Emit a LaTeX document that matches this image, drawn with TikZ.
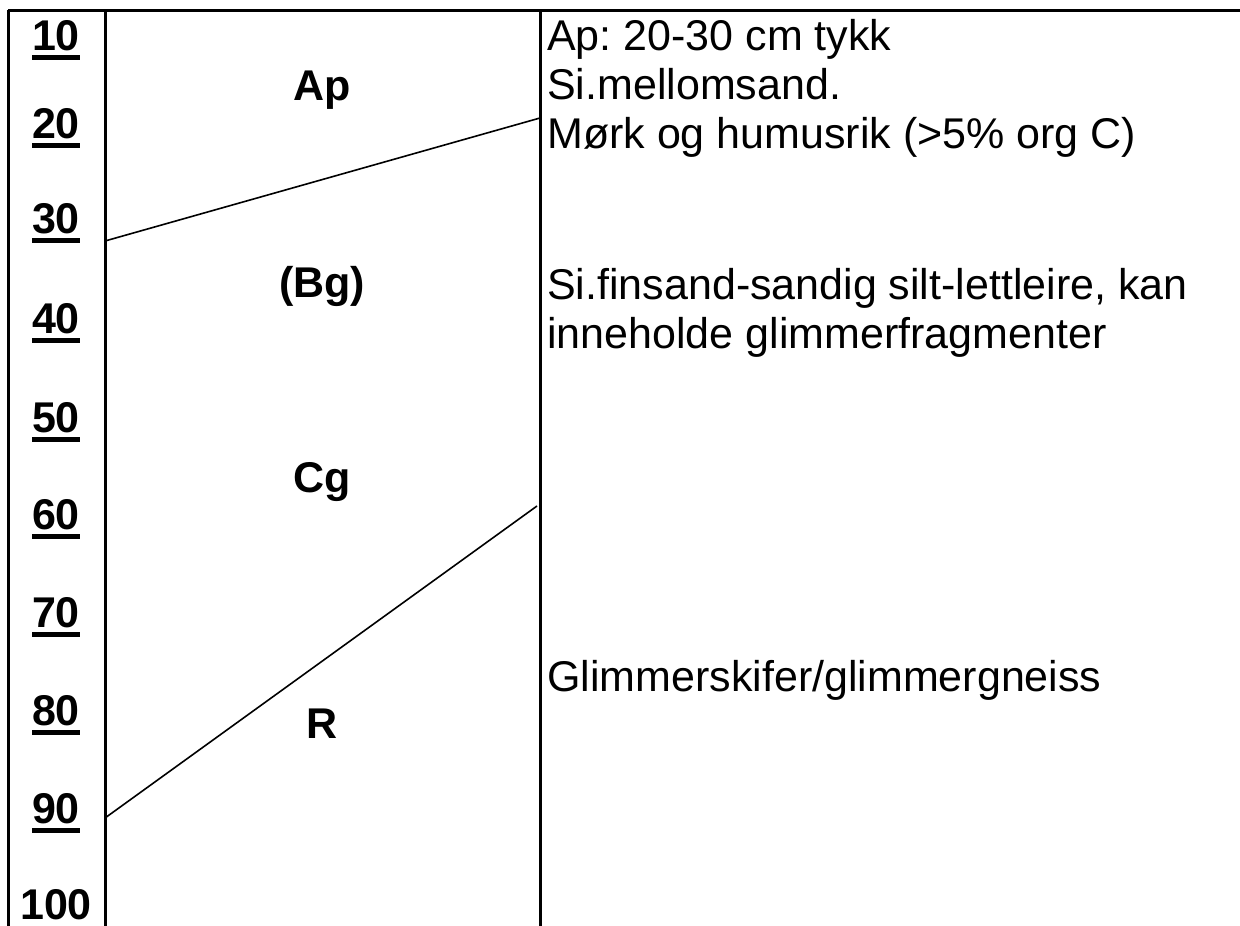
\documentclass[tikz,border=0pt]{standalone}
\usepackage{fontspec}
\setmainfont{Liberation Sans}
\usepackage{tikz}
\usetikzlibrary{positioning,calc}
\frenchspacing
\newcommand{\ulnum}[1]{\setbox0\hbox{#1}\leavevmode\rlap{\rule[-10pt]{\wd0}{5pt}}\box0}
\begin{document}
\begin{tikzpicture}[
        x=1pt, y=-1pt,
        font=\fontsize{43pt}{49pt}\selectfont,
        frame/.style={line width=3pt, draw=black},
        horizon/.style={line width=1.6pt, draw=black},
        depthlabel/.style={anchor=base, inner sep=0pt, font=\fontsize{43pt}{49pt}\selectfont\bfseries},
        layerlabel/.style={anchor=base, inner sep=0pt, font=\fontsize{43pt}{49pt}\selectfont\bfseries},
        desc/.style={anchor=base west, inner sep=0pt, align=left}
    ]
        \useasboundingbox (0,0) rectangle (1240,926);

        % frame
        \coordinate (tl) at (8,10);
        \coordinate (tr) at (1240,10);
        \coordinate (bl) at (8,926);
        \coordinate (sc) at (105,10);
        \coordinate (scb) at (105,926);
        \coordinate (hc) at (540,10);
        \coordinate (hcb) at (540,926);
        \draw[frame] (tl) -- (tr);
        \draw[frame] (tl) -- (bl);
        \draw[frame] (sc) -- (scb);
        \draw[frame] (hc) -- (hcb);

        % depth scale
        \foreach \d/\yb in {10/50, 20/138, 30/233, 40/333, 50/432, 60/529, 70/627, 80/725, 90/823}
            \node[depthlabel] (d\d) at (56,\yb) {\ulnum{\d}};
        \node[depthlabel] (d100) at (56,919) {100};

        % horizons
        \node[layerlabel] (ap) at (322,100) {Ap};
        \node[layerlabel] (bg) at (322,297) {(Bg)};
        \node[layerlabel] (cg) at (322,492) {Cg};
        \node[layerlabel] (r) at (322,738) {R};

        \coordinate (b1l) at (105,241);
        \coordinate (b1r) at (540,118);
        \coordinate (b2l) at (105,818);
        \coordinate (b2r) at (537,506);
        \draw[horizon] (b1l) -- (b1r);
        \draw[horizon] (b2l) -- (b2r);

        % descriptions (anchored at the baseline of the last line)
        \node[desc] (apdesc) at (547,148)
            {Ap: 20-30 cm tykk\\Si.mellomsand.\\Mørk og humusrik (>5\% org C)};
        \node[desc] (bgdesc) at (547,348)
            {Si.finsand-sandig silt-lettleire, kan\\inneholde glimmerfragmenter};
        \node[desc] (rdesc) at (547,691)
            {Glimmerskifer/glimmergneiss};
    \end{tikzpicture}
\end{document}
